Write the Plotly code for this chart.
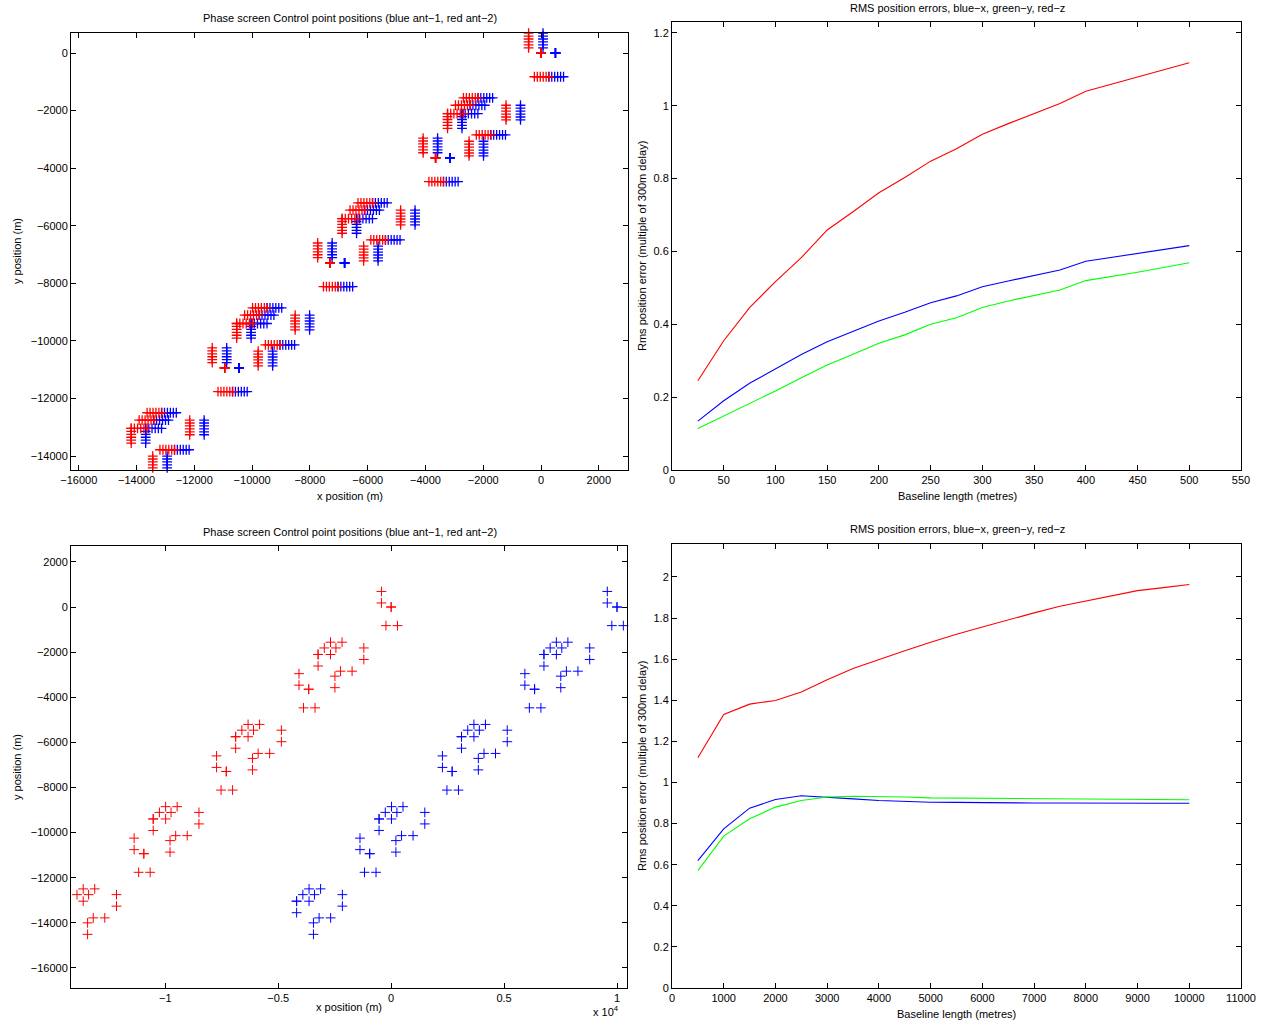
import numpy as np
import plotly.graph_objects as go

# ---------------------------------------------------------------
# RMS position errors versus baseline length
# ---------------------------------------------------------------
BASELINE_SHORT = [25, 50, 75, 100, 125, 150, 175, 200, 225, 250,
                  275, 300, 325, 350, 375, 400, 425, 450, 475, 500]
RMS_X_SHORT = [0.134, 0.190, 0.238, 0.277, 0.317, 0.352, 0.381, 0.409, 0.433, 0.459,
               0.478, 0.503, 0.519, 0.534, 0.549, 0.573, 0.584, 0.595, 0.606, 0.616]
RMS_Y_SHORT = [0.114, 0.148, 0.183, 0.217, 0.253, 0.288, 0.318, 0.348, 0.371, 0.400,
               0.418, 0.446, 0.464, 0.480, 0.494, 0.520, 0.531, 0.543, 0.556, 0.569]
RMS_Z_SHORT = [0.245, 0.355, 0.446, 0.517, 0.583, 0.659, 0.709, 0.761, 0.803, 0.848,
               0.882, 0.922, 0.951, 0.979, 1.006, 1.040, 1.059, 1.079, 1.099, 1.118]

BASELINE_LONG = [500, 1000, 1500, 2000, 2500, 3000, 3500, 4000, 4500, 5000,
                 5500, 6000, 6500, 7000, 7500, 8000, 8500, 9000, 9500, 10000]
RMS_X_LONG = [0.620, 0.774, 0.875, 0.917, 0.935, 0.929, 0.920, 0.912, 0.907, 0.904,
              0.903, 0.901, 0.900, 0.900, 0.900, 0.899, 0.899, 0.899, 0.899, 0.899]
RMS_Y_LONG = [0.571, 0.739, 0.823, 0.880, 0.912, 0.929, 0.933, 0.932, 0.929, 0.925,
              0.924, 0.922, 0.920, 0.919, 0.919, 0.917, 0.916, 0.916, 0.916, 0.916]
RMS_Z_LONG = [1.120, 1.331, 1.381, 1.399, 1.440, 1.500, 1.554, 1.599, 1.641, 1.682,
              1.721, 1.756, 1.792, 1.825, 1.857, 1.883, 1.909, 1.933, 1.948, 1.963]

# ---------------------------------------------------------------
# Phase-screen control point tracks of antenna 2 (start -> end, metres).
# Antenna 1 tracks are the same tracks shifted along x by the baseline.
# ---------------------------------------------------------------
TRACK_X0 = [0, -430, -230,
            -3650, -4080, -3880, -2490, -2240, -1210, -3235, -3235, -2960, -2685,
            -7300, -7730, -7530, -6140, -5890, -4860, -6885, -6885, -6610, -6335,
            -10950, -11380, -11180, -9790, -9540, -8510, -10535, -10535, -10260, -9985,
            -13440, -13190, -12160, -14185, -14185, -13910, -13635]
TRACK_Y0 = [0, 690, -825,
            -3645, -2955, -4470, -3065, -2845, -1815, -2105, -2105, -1815, -1560,
            -7290, -6600, -8115, -6710, -6490, -5460, -5750, -5750, -5460, -5205,
            -10935, -10245, -11760, -10355, -10135, -9105, -9395, -9395, -9105, -8850,
            -14000, -13780, -12750, -13040, -13040, -12750, -12495]
TRACK_X1 = [0, -430, 280,
            -3650, -4080, -3370, -2490, -1730, -1210, -3235, -2685, -2445, -2175,
            -7300, -7730, -7020, -6140, -5380, -4860, -6885, -6335, -6095, -5825,
            -10950, -11380, -10670, -9790, -9030, -8510, -10535, -9985, -9745, -9475,
            -13440, -12680, -12160, -14185, -13635, -13395, -13125]
TRACK_Y1 = [0, 180, -825,
            -3645, -3465, -4470, -3575, -2845, -2325, -2615, -2105, -1815, -1560,
            -7290, -7110, -8115, -7220, -6490, -5970, -6260, -5750, -5460, -5205,
            -10935, -10755, -11760, -10865, -10135, -9615, -9905, -9395, -9105, -8850,
            -14510, -13780, -13260, -13550, -13040, -12750, -12495]
TRACK_SAMPLES = 6
ANT1_SHIFT_SHORT = 500
ANT1_SHIFT_LONG = 10000

RED = "rgb(255,0,0)"
BLUE = "rgb(0,0,255)"
GREEN = "rgb(0,255,0)"
FONT = "Liberation Sans, Arial, Helvetica, sans-serif"
W, H = 1268, 1024


def px_x(p):
    return p / W


def px_y(p):
    return 1 - p / H


def lab(v):
    s = f"{v:g}"
    return s.replace("-", "\u2212")


# sampled tracks (top-left) and track end points (bottom-left)
tx, ty = [], []
for x0, y0, x1, y1 in zip(TRACK_X0, TRACK_Y0, TRACK_X1, TRACK_Y1):
    tx.extend(np.linspace(x0, x1, TRACK_SAMPLES))
    ty.extend(np.linspace(y0, y1, TRACK_SAMPLES))
tx = np.array(tx)
ty = np.array(ty)

ex = np.array(TRACK_X0 + TRACK_X1, dtype=float)
ey = np.array(TRACK_Y0 + TRACK_Y1, dtype=float)

fig = go.Figure()


def cross(color, size, width):
    return dict(symbol="cross-thin", size=size, color=color,
                line=dict(width=width, color=color))


# top-left: control point tracks, baseline 500 m
fig.add_trace(go.Scatter(x=tx + ANT1_SHIFT_SHORT, y=ty, mode="markers",
                         marker=cross(BLUE, 7, 1.3), xaxis="x", yaxis="y",
                         cliponaxis=False, showlegend=False))
fig.add_trace(go.Scatter(x=tx, y=ty, mode="markers",
                         marker=cross(RED, 7, 1.3), xaxis="x", yaxis="y",
                         cliponaxis=False, showlegend=False))

# top-right: RMS errors for short baselines
for ys, col in ((RMS_X_SHORT, BLUE), (RMS_Y_SHORT, GREEN), (RMS_Z_SHORT, RED)):
    fig.add_trace(go.Scatter(x=BASELINE_SHORT, y=ys, mode="lines",
                             line=dict(color=col, width=1.1),
                             xaxis="x2", yaxis="y2", showlegend=False))

# bottom-left: control points, baseline 10 km
fig.add_trace(go.Scatter(x=ex, y=ey, mode="markers",
                         marker=cross(RED, 7, 1.0), xaxis="x3", yaxis="y3",
                         cliponaxis=False, showlegend=False))
fig.add_trace(go.Scatter(x=ex + ANT1_SHIFT_LONG, y=ey, mode="markers",
                         marker=cross(BLUE, 7, 1.0), xaxis="x3", yaxis="y3",
                         cliponaxis=False, showlegend=False))

# bottom-right: RMS errors for long baselines
for ys, col in ((RMS_X_LONG, BLUE), (RMS_Y_LONG, GREEN), (RMS_Z_LONG, RED)):
    fig.add_trace(go.Scatter(x=BASELINE_LONG, y=ys, mode="lines",
                             line=dict(color=col, width=1.1),
                             xaxis="x4", yaxis="y4", showlegend=False))


def axis(domain, rng, tickvals, ticktext, anchor):
    return dict(domain=domain, range=rng, tickvals=tickvals, ticktext=ticktext,
                anchor=anchor, showline=True, linecolor="black", linewidth=1,
                mirror="ticks", ticks="inside", ticklen=5, tickwidth=1,
                tickcolor="black", showgrid=False, zeroline=False,
                automargin=False,
                tickfont=dict(family=FONT, size=11, color="black"))


tl_x = list(range(-16000, 2001, 2000))
tl_y = list(range(-14000, 1, 2000))
tr_x = list(range(0, 551, 50))
tr_y = [0, 0.2, 0.4, 0.6, 0.8, 1.0, 1.2]
bl_x = [-10000, -5000, 0, 5000, 10000]
bl_y = list(range(-16000, 2001, 2000))
br_x = list(range(0, 11001, 1000))
br_y = [0, 0.2, 0.4, 0.6, 0.8, 1.0, 1.2, 1.4, 1.6, 1.8, 2.0]

left_dom = [px_x(71), px_x(628)]
right_dom = [px_x(672), px_x(1241)]

fig.update_layout(
    width=W, height=H, margin=dict(l=0, r=0, t=0, b=0, pad=0), autosize=False,
    paper_bgcolor="white", plot_bgcolor="white",
    font=dict(family=FONT, size=11, color="black"),
    xaxis=axis(left_dom, [-16269, 3011], tl_x, [lab(v) for v in tl_x], "y"),
    yaxis=axis([px_y(470), px_y(33)], [-14484, 695], tl_y, [lab(v) for v in tl_y], "x"),
    xaxis2=axis(right_dom, [0, 550], tr_x, [lab(v) for v in tr_x], "y2"),
    yaxis2=axis([px_y(470), px_y(22)], [0, 1.23], tr_y, [lab(v) for v in tr_y], "x2"),
    xaxis3=axis([px_x(71), px_x(627)], [-14175, 10442], bl_x,
                [lab(v / 10000) for v in bl_x], "y3"),
    yaxis3=axis([px_y(988), px_y(546)], [-16888, 2704], bl_y, [lab(v) for v in bl_y], "x3"),
    xaxis4=axis(right_dom, [0, 11000], br_x, [lab(v) for v in br_x], "y4"),
    yaxis4=axis([px_y(988), px_y(544)], [0, 2.16], br_y, [lab(v) for v in br_y], "x4"),
)

TITLE_TL = "Phase screen Control point positions (blue ant\u22121, red ant\u22122)"
TITLE_R = "RMS position errors, blue\u2212x, green\u2212y, red\u2212z"
YLAB_R = "Rms position error (multiple of 300m delay)"

texts = [
    (TITLE_TL, 350, 18, 0),
    (TITLE_R, 957, 8, 0),
    (TITLE_TL, 350, 532, 0),
    (TITLE_R, 957, 529, 0),
    ("x position (m)", 350, 496, 0),
    ("y position (m)", 17, 251, -90),
    ("Baseline length (metres)", 957, 496, 0),
    (YLAB_R, 642, 246, -90),
    ("x position (m)", 349, 1007, 0),
    ("y position (m)", 17, 767, -90),
    ("Baseline length (metres)", 956, 1014, 0),
    (YLAB_R, 642, 766, -90),
    ("x 10<sup>4</sup>", 606, 1011, 0),
]
for txt, x, y, ang in texts:
    fig.add_annotation(text=txt, x=px_x(x), y=px_y(y), xref="paper", yref="paper",
                       xanchor="center", yanchor="middle", showarrow=False,
                       textangle=ang, font=dict(family=FONT, size=11, color="black"))

# page without body margin so the figure occupies the whole window
fig.write_html("out.html",
               post_script="document.body.style.margin='0px';"
                           "document.body.style.overflow='hidden';")
